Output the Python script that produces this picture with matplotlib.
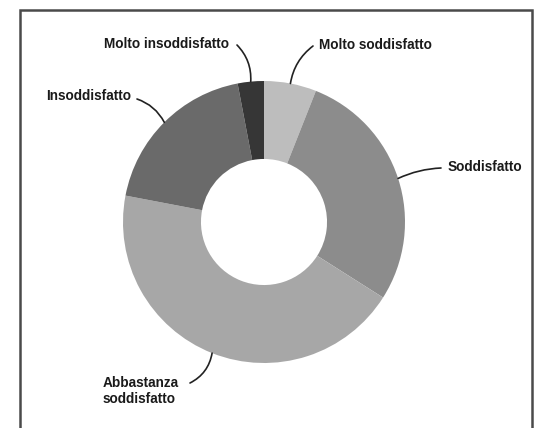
import numpy as np
import matplotlib
matplotlib.use("Agg")
import matplotlib.pyplot as plt
from matplotlib.patches import Rectangle

# --- Daten ---
kategorien = ["Molto soddisfatto", "Soddisfatto", "Abbastanza\nsoddisfatto",
              "Insoddisfatto", "Molto insoddisfatto"]
werte = [6, 28, 44, 19, 3]
farben = ["#bdbdbd", "#8c8c8c", "#a7a7a7", "#6a6a6a", "#363636"]

# Textposition (Pixel, y von oben), Ausrichtung, Startpunkt der Linie, Kruemmung
text_pos = [(319, 45), (448, 167), (103, 391), (131, 96), (229, 44)]
text_ha = ["left", "left", "left", "right", "right"]
linie_start = [(313, 46), (441, 168), (190, 383), (137, 99), (237, 45)]
linie_rad = [0.2, 0.1, 0.25, -0.2, -0.22]

W, H = 543, 428
fig = plt.figure(figsize=(W / 100, H / 100), dpi=100)
fig.patch.set_facecolor("white")

# Rahmen
fig.patches.append(Rectangle((20 / W, -0.1), 512 / W, (H - 10) / H + 0.1,
                             transform=fig.transFigure, fill=False,
                             edgecolor="#4a4a4a", linewidth=1.8))

cx, cy, r = 264, 222, 141
ax = fig.add_axes([(cx - r) / W, (H - cy - r) / H, 2 * r / W, 2 * r / H])
wedges, _ = ax.pie(werte, colors=farben, startangle=90, counterclock=False,
                   radius=1, wedgeprops=dict(width=0.553, edgecolor="none"))
ax.set_xlim(-1, 1)
ax.set_ylim(-1, 1)
ax.set_aspect("equal")
ax.axis("off")

for w, name, tp, ha, ls, rad in zip(wedges, kategorien, text_pos, text_ha,
                                    linie_start, linie_rad):
    mitte = np.deg2rad((w.theta1 + w.theta2) / 2)
    x, y = np.cos(mitte), np.sin(mitte)
    ax.annotate("", xy=(x, y), xycoords="data",
                xytext=(ls[0], H - ls[1]), textcoords="figure pixels",
                arrowprops=dict(arrowstyle="-", color="#222222", lw=1.2,
                                shrinkA=0, shrinkB=0,
                                connectionstyle=f"arc3,rad={rad}"))
    fig.text(tp[0] / W, (H - tp[1]) / H, name, ha=ha, va="center",
             fontsize=9.8, fontweight="bold", family="Liberation Sans",
             color="#1a1a1a", linespacing=1.15)

fig.savefig("out.png", dpi=100)
